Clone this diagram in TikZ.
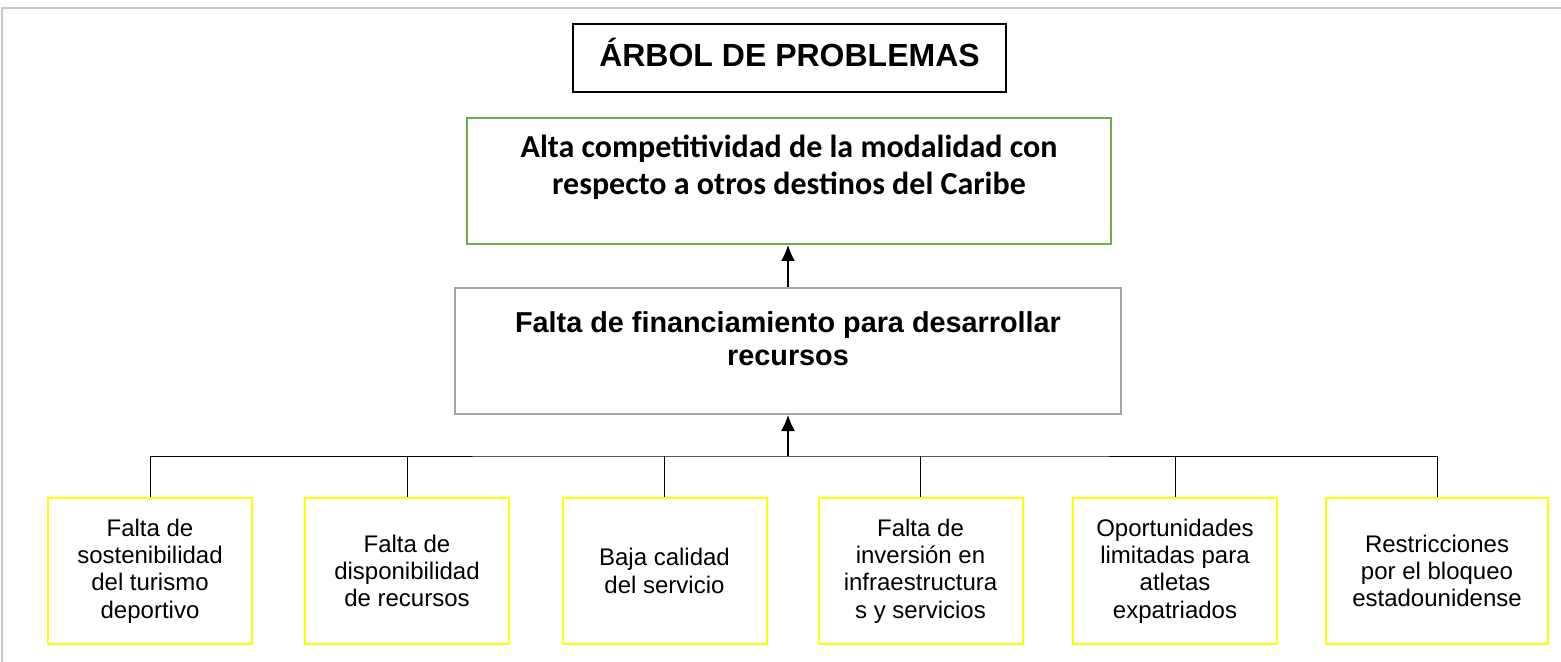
\documentclass[tikz,border=0pt]{standalone}
\usepackage{fontspec}
\setmainfont{Liberation Sans}
\newfontfamily\calibri{Carlito}
\usetikzlibrary{arrows.meta}
\definecolor{verde}{HTML}{70AD47}
\definecolor{gris}{HTML}{A6A6A6}
\definecolor{amarillo}{HTML}{FFFF00}
\definecolor{grismarco}{HTML}{C8C8C8}

\begin{document}
\begin{tikzpicture}[x=0.5pt,y=-0.5pt,
    titulo/.style={draw,line width=1pt,minimum width=216.5pt,inner sep=0pt,text height=21.5pt,text depth=12.5pt,font=\bfseries\fontsize{16}{19}\selectfont},
    efecto/.style={draw=verde,line width=1pt,minimum width=322pt,inner sep=0pt,align=center,text height=38.5pt,text depth=24.5pt,font=\calibri\bfseries\fontsize{16}{18.5}\selectfont},
    problema/.style={draw=gris,line width=1pt,minimum width=333pt,inner sep=0pt,align=center,text height=38.5pt,text depth=24.5pt,font=\bfseries\fontsize{14.4}{16.5}\selectfont},
    causa/.style={draw=amarillo,line width=1pt,minimum width=102pt,minimum height=73pt,align=center,font=\fontsize{12}{13.7}\selectfont},
    flecha/.style={-{Latex[length=8pt,width=7pt]},line width=0.7pt}]
  \useasboundingbox (0,0) rectangle (1561,662);
  \draw[grismarco,line width=1pt] (2,662) -- (2,8) -- (1561,8);

  \node[titulo] (titulo) at (789.5,58) {ÁRBOL DE PROBLEMAS};
  \node[efecto] (efecto) at (789,181) {Alta competitividad de la modalidad con\\respecto a otros destinos del Caribe};
  \node[problema] (problema) at (788,351) {Falta de financiamiento para desarrollar\\recursos};

  % causas
  \node[causa] (c1) at (150,571) {Falta de\\sostenibilidad\\del turismo\\deportivo};
  \node[causa] (c2) at (407,571) {Falta de\\disponibilidad\\de recursos};
  \node[causa] (c3) at (664.5,571) {Baja calidad\\del servicio};
  \node[causa] (c4) at (920.5,571) {Falta de\\inversión en\\infraestructura\\s y servicios};
  \node[causa] (c5) at (1175,571) {Oportunidades\\limitadas para\\atletas\\expatriados};
  \node[causa,minimum width=111pt] (c6) at (1437,571) {Restricciones\\por el bloqueo\\estadounidense};

  \coordinate (bus) at (788,456);
  \draw[line width=0.5pt] (c1.north) |- (bus) -| (c6.north);
  \foreach \c in {c2,c3,c4,c5}
    \draw[line width=0.5pt] (\c.north) -- (\c.north |- bus);
  \draw[flecha] (bus) -- (problema.south);
  \draw[flecha] (problema.north) -- (problema.north |- efecto.south);
\end{tikzpicture}
\end{document}
